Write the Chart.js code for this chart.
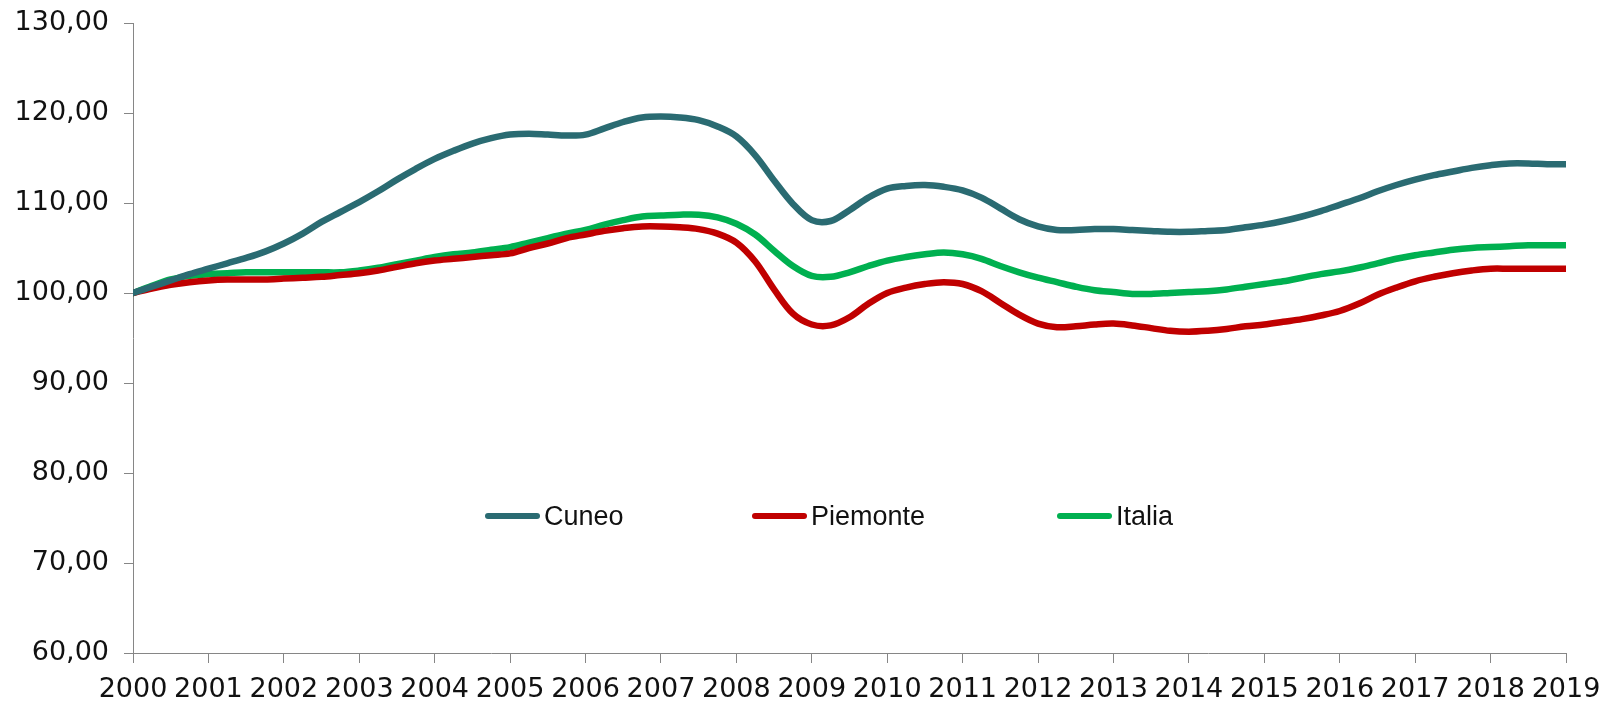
<!DOCTYPE html>
<html lang="it">
<head>
<meta charset="utf-8">
<title>Cuneo, Piemonte, Italia</title>
<script src="https://cdn.jsdelivr.net/npm/chart.js@4.4.1/dist/chart.umd.min.js"></script>
<style>
    html, body { margin: 0; padding: 0; background: #fff; }
    #contenitore { width: 1609px; height: 702px; position: relative; }
</style>
</head>
<body>
<div id="contenitore"><canvas id="grafico"></canvas></div>
<script>
// Anni sull'asse x (dati trimestrali, dal 2000 al primo trimestre 2019)
const anni = [2000, 2001, 2002, 2003, 2004, 2005, 2006, 2007, 2008, 2009,
    2010, 2011, 2012, 2013, 2014, 2015, 2016, 2017, 2018, 2019];

// Valori, un valore per trimestre
const cuneo = [
    100.0, 100.7, 101.4, 102.1, 102.7, 103.3, 103.9, 104.6,
    105.5, 106.6, 107.9, 109.0, 110.1, 111.3, 112.6, 113.8,
    114.9, 115.8, 116.6, 117.2, 117.6, 117.7, 117.6, 117.5,
    117.6, 118.3, 119.0, 119.5, 119.6, 119.5, 119.2, 118.5,
    117.4, 115.3, 112.5, 109.9, 108.1, 108.0, 109.2, 110.6,
    111.6, 111.9, 112.0, 111.8, 111.4, 110.6, 109.4, 108.2,
    107.4, 107.0, 107.0, 107.1, 107.1, 107.0, 106.9, 106.8,
    106.8, 106.9, 107.0, 107.3, 107.6, 108.0, 108.5, 109.1,
    109.8, 110.5, 111.3, 112.0, 112.6, 113.1, 113.5, 113.9,
    114.2, 114.4, 114.4, 114.3, 114.3
];
const piemonte = [
    100.0, 100.5, 100.9, 101.2, 101.4, 101.5, 101.5, 101.5,
    101.6, 101.7, 101.8, 102.0, 102.2, 102.5, 102.9, 103.3,
    103.6, 103.8, 104.0, 104.2, 104.4, 105.0, 105.5, 106.1,
    106.5, 106.9, 107.2, 107.4, 107.4, 107.3, 107.1, 106.6,
    105.6, 103.5, 100.4, 97.7, 96.5, 96.4, 97.3, 98.8,
    100.0, 100.6, 101.0, 101.2, 101.0, 100.2, 98.9, 97.6,
    96.6, 96.2, 96.3, 96.5, 96.6, 96.4, 96.1, 95.8,
    95.7, 95.8, 96.0, 96.3, 96.5, 96.8, 97.1, 97.5,
    98.0, 98.8, 99.8, 100.6, 101.3, 101.8, 102.2, 102.5,
    102.7, 102.7, 102.7, 102.7, 102.7
];
const italia = [
    100.0, 100.8, 101.5, 101.9, 102.1, 102.2, 102.3, 102.3,
    102.3, 102.3, 102.3, 102.3, 102.5, 102.8, 103.2, 103.6,
    104.0, 104.3, 104.5, 104.8, 105.1, 105.6, 106.1, 106.6,
    107.0, 107.6, 108.1, 108.5, 108.6, 108.7, 108.7, 108.4,
    107.7, 106.5, 104.7, 103.0, 101.9, 101.8, 102.3, 103.0,
    103.6, 104.0, 104.3, 104.5, 104.3, 103.8, 103.0, 102.3,
    101.7, 101.2, 100.7, 100.3, 100.1, 99.9, 99.9, 100.0,
    100.1, 100.2, 100.4, 100.7, 101.0, 101.3, 101.7, 102.1,
    102.4, 102.8, 103.3, 103.8, 104.2, 104.5, 104.8, 105.0,
    105.1, 105.2, 105.3, 105.3, 105.3
];

// Posizione di ogni trimestre sull'asse x
const trimestri = [];
anni.forEach((anno, i) => {
    const quanti = i === anni.length - 1 ? 1 : 4;
    for (let q = 0; q < quanti; q++) trimestri.push(anno + q / 4);
});
const punti = (valori) => valori.map((v, i) => ({ x: trimestri[i], y: v }));

const colori = { cuneo: '#2A6B72', piemonte: '#C00000', italia: '#00B050' };
const grigio = '#868686';

Chart.defaults.font.family = '"DejaVu Sans", Verdana, sans-serif';
Chart.defaults.color = '#111';

const serie = (label, valori, colore) => ({
    label: label,
    data: punti(valori),
    borderColor: colore,
    backgroundColor: colore,
    borderWidth: 6.5,
    pointRadius: 0,
    fill: false,
    tension: 0.35,
    borderCapStyle: 'round',
    borderJoinStyle: 'round'
});

// Legenda disegnata dentro l'area del grafico, come nell'originale
const legendaInterna = {
    id: 'legendaInterna',
    afterDraw(chart, args, opts) {
        const c = chart.ctx;
        c.save();
        c.font = opts.font;
        c.textBaseline = 'alphabetic';
        c.textAlign = 'left';
        chart.data.datasets.forEach((ds, i) => {
            const x0 = opts.posizioni[i];
            c.strokeStyle = ds.borderColor;
            c.lineWidth = 6;
            c.lineCap = 'round';
            c.beginPath();
            c.moveTo(x0 + 3, opts.y);
            c.lineTo(x0 + opts.lunghezza - 3, opts.y);
            c.stroke();
            c.fillStyle = '#111';
            c.fillText(ds.label, x0 + opts.lunghezza + 4, opts.y + 9);
        });
        c.restore();
    }
};

const ctx = document.getElementById('grafico').getContext('2d');
const grafico = new Chart(ctx, {
    type: 'line',
    data: {
        datasets: [
            serie('Cuneo', cuneo, colori.cuneo),
            serie('Piemonte', piemonte, colori.piemonte),
            serie('Italia', italia, colori.italia)
        ]
    },
    options: {
        responsive: true,
        maintainAspectRatio: false,
        animation: false,
        layout: { padding: { top: 23, right: 43, left: 0, bottom: 0 } },
        plugins: {
            legend: { display: false },
            tooltip: { enabled: false },
            legendaInterna: {
                font: '27px "Liberation Sans", Arial, sans-serif',
                posizioni: [485, 752, 1057],
                lunghezza: 55,
                y: 516
            }
        },
        scales: {
            x: {
                type: 'linear',
                min: 2000,
                max: 2019,
                afterFit: (scala) => {
                    scala.height = 49;
                    scala.paddingLeft = 0;
                    scala.paddingRight = 0;
                },
                ticks: {
                    stepSize: 1,
                    autoSkip: false,
                    maxRotation: 0,
                    padding: 11,
                    font: { size: 27 },
                    callback: (v) => String(v)
                },
                grid: { drawOnChartArea: false, tickLength: 10, color: grigio, tickColor: grigio },
                border: { display: true, color: grigio, width: 1 }
            },
            y: {
                min: 60,
                max: 130,
                afterFit: (scala) => {
                    scala.width = 133;
                    scala.paddingTop = 0;
                    scala.paddingBottom = 0;
                },
                ticks: {
                    stepSize: 10,
                    padding: 15,
                    font: { size: 27 },
                    callback: (v) => v.toFixed(2).replace('.', ',')
                },
                grid: { drawOnChartArea: false, tickLength: 9, color: grigio, tickColor: grigio },
                border: { display: true, color: grigio, width: 1 }
            }
        }
    },
    plugins: [legendaInterna]
});
</script>
</body>
</html>
